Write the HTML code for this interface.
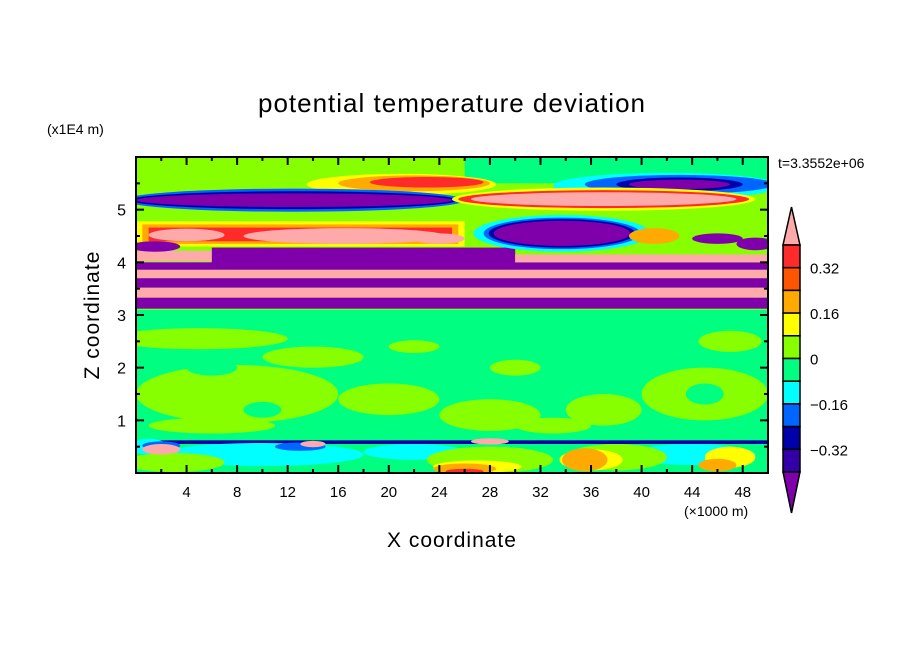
<!DOCTYPE html>
<html><head><meta charset="utf-8"><style>
body{margin:0;background:#fff;}
svg text{font-family:"Liberation Sans",sans-serif;fill:#000;}
</style></head><body>
<svg id="chart" width="904" height="654" viewBox="0 0 904 654" xmlns="http://www.w3.org/2000/svg">
<defs><clipPath id="pc"><rect x="136" y="157" width="632" height="316"/></clipPath></defs>
<rect width="904" height="654" fill="#fff"/>
<text x="452" y="112" font-size="26" text-anchor="middle" letter-spacing="1">potential temperature deviation</text>
<text x="47" y="134" font-size="14">(x1E4 m)</text>
<text x="778" y="168" font-size="14">t=3.3552e+06</text>
<text x="452" y="547" font-size="21" text-anchor="middle" letter-spacing="1">X coordinate</text>
<text transform="translate(99,315) rotate(-90)" font-size="21" text-anchor="middle" letter-spacing="1">Z coordinate</text>
<text x="684" y="516" font-size="14">(×1000 m)</text>
<g id="field" clip-path="url(#pc)"></g>
<g id="axes"></g>
<g id="cbar"></g>
</svg>
<script>
const colors=["#7f00aa","#3300a8","#0000aa","#0066ff","#00ffff","#00ff80","#88ff00","#ffff00","#ffaa00","#ff5500","#ff2a2a","#ffaaaa"];
const cbarLabels=["0.32","0.16","0","-0.16","-0.32"];
const xTicks=[4,8,12,16,20,24,28,32,36,40,44,48];
const yTicks=[1,2,3,4,5];
// bands: x0,x1,z0,z1,level
const bandX0=[0,0,26,0,0,0,0,0,0,6,30,0,0.5,1,0,0];
const bandX1=[50,50,50,50,50,50,50,50,7,30,50,26,25.5,25,50,50];
const bandZ0=[3.1,0,5.5,3.12,3.33,3.52,3.7,3.86,4.02,3.98,4.0,4.3,4.35,4.4,0.55,0];
const bandZ1=[6,3.1,6,3.33,3.52,3.7,3.86,4.0,4.22,4.28,4.15,4.78,4.72,4.66,0.62,0.55];
const bandL=[6,5,5,0,11,0,11,0,11,0,11,7,8,10,2,5];
// blobs: x,z,rx,rz,level
const blobX=[4,16.5,24,1.5,33.7,33.7,33.7,33.7,41,46,49,21,22,23,42,43,43,43,12.5,12.5,12.5,37,37,37,5,8,20,28,37,45,47,14,30,22,33,6,6,10,45,10,22,44,1,13,2,28,38,3,36,27,47,35.5,46,26,26,28,14,2];
const blobZ=[4.52,4.5,4.45,4.3,4.55,4.55,4.55,4.55,4.5,4.45,4.35,5.48,5.5,5.52,5.45,5.48,5.48,5.48,5.18,5.18,5.18,5.2,5.2,5.2,2.55,1.5,1.4,1.1,1.2,1.5,2.5,2.2,2.0,2.4,0.9,0.9,2.0,1.2,1.5,0.35,0.4,0.35,0.5,0.5,0.52,0.25,0.3,0.2,0.25,0.12,0.3,0.25,0.15,0.08,0.03,0.6,0.55,0.45];
const blobRX=[3,8,2,2,7,6.2,5.8,5.4,2,2,1.5,7.5,6,4.5,9,7.5,5,4,13.5,13,12.5,12,11.5,10.5,7,8,4,4,3,5,2.5,4,2,2,3,5,2,1.5,1.5,8,4,5,1.5,2,1.5,5,4,4,2.5,3.5,2,1.8,1.5,2.5,1.5,1.5,1,1.5];
const blobRZ=[0.12,0.15,0.1,0.1,0.35,0.3,0.27,0.24,0.15,0.1,0.12,0.2,0.15,0.1,0.25,0.18,0.13,0.09,0.22,0.17,0.13,0.22,0.17,0.13,0.2,0.55,0.3,0.3,0.3,0.5,0.2,0.2,0.15,0.12,0.15,0.15,0.15,0.15,0.2,0.22,0.15,0.2,0.15,0.08,0.08,0.25,0.25,0.18,0.2,0.12,0.2,0.22,0.12,0.1,0.05,0.06,0.06,0.1];
const blobL=[11,11,11,0,4,3,2,0,8,0,0,7,8,10,4,3,2,0,3,2,0,7,10,11,6,6,6,6,6,6,6,6,6,6,6,6,5,5,5,4,4,4,4,3,3,6,6,6,7,7,7,8,8,8,10,11,11,11];

const X0=136,X1=768,Y0=473,Y1=157;
const sx=v=>X0+(v/50)*(X1-X0);
const sy=v=>Y0-(v/6)*(Y0-Y1);
const NS="http://www.w3.org/2000/svg";
const mk=(t,a,p)=>{const e=document.createElementNS(NS,t);for(const k in a)e.setAttribute(k,a[k]);p.appendChild(e);return e;};
const field=document.getElementById('field');
for(let i=0;i<bandL.length;i++){
  const r=mk('rect',{x:sx(bandX0[i]),y:sy(bandZ1[i]),width:sx(bandX1[i])-sx(bandX0[i]),height:sy(bandZ0[i])-sy(bandZ1[i]),fill:colors[bandL[i]]},field);
  
  
}
for(let i=0;i<blobL.length;i++){
  const e=mk('ellipse',{cx:sx(blobX[i]),cy:sy(blobZ[i]),rx:sx(blobRX[i])-sx(0),ry:sy(0)-sy(blobRZ[i]),fill:colors[blobL[i]]},field);
  
  
}
const axes=document.getElementById('axes');
const fr=mk('rect',{x:X0,y:Y1,width:X1-X0,height:Y0-Y1,fill:'none',stroke:'#000','stroke-width':2},axes);


for(let v=2;v<50;v+=2){
  const L=(v%4===0)?8:4;
  mk('line',{x1:sx(v),x2:sx(v),y1:Y0,y2:Y0-L,stroke:'#000','stroke-width':2},axes);
  mk('line',{x1:sx(v),x2:sx(v),y1:Y1,y2:Y1+L,stroke:'#000','stroke-width':2},axes);
}
for(let v=0.5;v<6;v+=0.5){
  const L=(v%1===0)?8:4;
  mk('line',{x1:X0,x2:X0+L,y1:sy(v),y2:sy(v),stroke:'#000','stroke-width':2},axes);
  mk('line',{x1:X1,x2:X1-L,y1:sy(v),y2:sy(v),stroke:'#000','stroke-width':2},axes);
}
xTicks.forEach(v=>{const t=mk('text',{x:sx(v),y:497,'font-size':15,'text-anchor':'middle'},axes);t.textContent=v;
 
 });
yTicks.forEach(v=>{const t=mk('text',{x:126,y:sy(v)+6,'font-size':16,'text-anchor':'end'},axes);t.textContent=v;
 
 });
const cb=document.getElementById('cbar');
const cx0=783,cx1=800,cy0=245,cy1=472,n=10,h=(cy1-cy0)/n;
const tri1=mk('polygon',{points:`${cx0},${cy0} ${cx1},${cy0} ${(cx0+cx1)/2},207`,fill:colors[11],stroke:'#000','stroke-width':1.5},cb);


for(let i=0;i<n;i++){
  const r=mk('rect',{x:cx0,y:cy0+i*h,width:cx1-cx0,height:h,fill:colors[10-i],stroke:'#000','stroke-width':1.5},cb);
  
  
}
const tri2=mk('polygon',{points:`${cx0},${cy1} ${cx1},${cy1} ${(cx0+cx1)/2},513`,fill:colors[0],stroke:'#000','stroke-width':1.5},cb);


cbarLabels.forEach((s,i)=>{const t=mk('text',{x:810,y:cy0+(1+2*i)*h+6,'font-size':15},cb);t.textContent=s.replace('-','\u2212');
 
 });
</script>
</body></html>
